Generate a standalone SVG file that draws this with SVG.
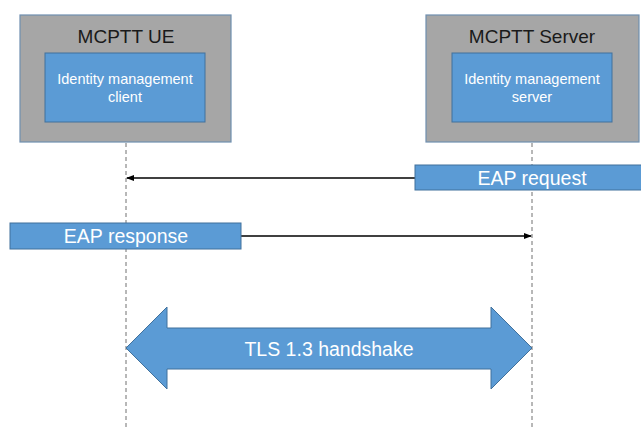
<svg xmlns="http://www.w3.org/2000/svg" width="641" height="428" viewBox="0 0 641 428">
<style>
.outer{fill:#a6a6a6;stroke:#6f8fb0;stroke-width:1.2}
.inner{fill:#5b9bd5;stroke:#41719c;stroke-width:1}
.title{font-family:"Liberation Sans",Arial,sans-serif;font-size:19px;fill:#1a1a1a;text-anchor:middle}
.sub{font-family:"Liberation Sans",Arial,sans-serif;font-size:14.5px;fill:#ffffff;text-anchor:middle}
.lbl{font-family:"Liberation Sans",Arial,sans-serif;font-size:19.5px;fill:#ffffff;text-anchor:middle}
.life{stroke:#707070;stroke-width:1;stroke-dasharray:4,3;fill:none}
.msg{stroke:#000;stroke-width:1.5;fill:none}
</style>
<defs>
<marker id="ah" markerWidth="8" markerHeight="8" refX="7" refY="4" orient="auto" markerUnits="userSpaceOnUse">
<path d="M0,1 L8,4 L0,7 Z" fill="#000"/>
</marker>
</defs>
<rect width="641" height="428" fill="#ffffff"/>
<g id="connectors">
<line class="life" x1="126" y1="122" x2="126" y2="428"/>
<line class="life" x1="532" y1="122" x2="532" y2="428"/>
<line class="msg" x1="415" y1="178" x2="127" y2="178" marker-end="url(#ah)"/>
<line class="msg" x1="241" y1="236" x2="531" y2="236" marker-end="url(#ah)"/>
</g>
<g id="ue">
<rect class="outer" x="20" y="15" width="211" height="127"/>
<text class="title" x="126" y="43">MCPTT UE</text>
<rect class="inner" x="45" y="53" width="160" height="69"/>
<text class="sub" x="125" y="84">Identity management</text>
<text class="sub" x="125" y="102">client</text>
</g>
<g id="server">
<rect class="outer" x="426" y="15" width="213" height="127"/>
<text class="title" x="532" y="43">MCPTT Server</text>
<rect class="inner" x="452" y="53" width="160" height="69"/>
<text class="sub" x="532" y="84">Identity management</text>
<text class="sub" x="532" y="102">server</text>
</g>
<g id="eap-request">
<rect class="inner" x="415" y="165" width="228" height="25"/>
<text class="lbl" x="532" y="185">EAP request</text>
</g>
<g id="eap-response">
<rect class="inner" x="10" y="223" width="231" height="26"/>
<text class="lbl" x="126" y="243">EAP response</text>
</g>
<g id="tls">
<polygon class="inner" points="126,348 167,307 167,328 491,328 491,307 532,348 491,389 491,369 167,369 167,389"/>
<text class="lbl" x="329" y="356">TLS 1.3 handshake</text>
</g>
</svg>
